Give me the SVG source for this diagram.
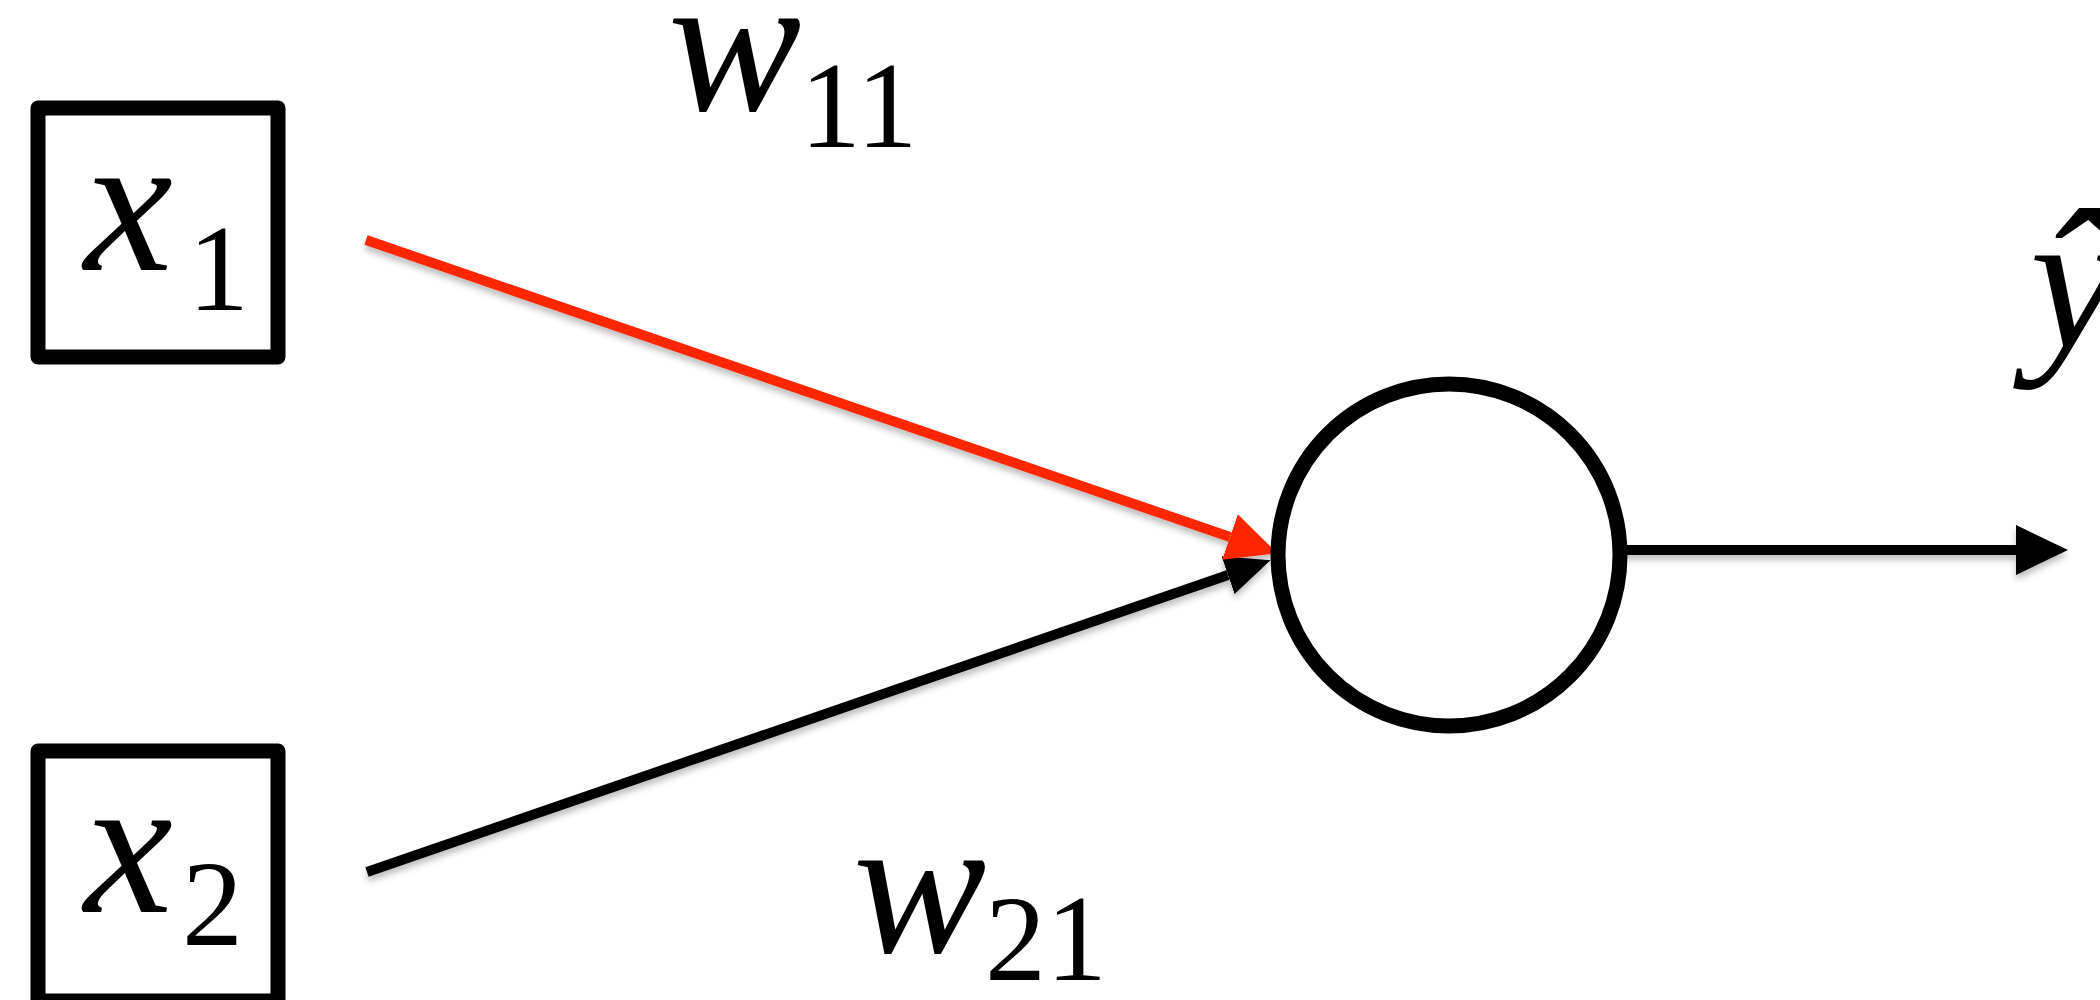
<svg xmlns="http://www.w3.org/2000/svg" width="2100" height="1000" viewBox="0 0 2100 1000">
<style>
.box{fill:#fff;stroke:#000;stroke-width:15;stroke-linejoin:round}
.neuron{fill:#fff;stroke:#000;stroke-width:15}
.var{font-family:"Liberation Serif","Times New Roman",serif;font-style:italic;font-size:200px;fill:#000}
.sub{font-family:"Liberation Serif","Times New Roman",serif;font-style:normal;font-size:122px;fill:#000}
.edge{fill:none;stroke-width:10}
</style>
<defs>
<marker id="ahRed" markerUnits="userSpaceOnUse" markerWidth="60" markerHeight="60" refX="0" refY="24" orient="auto">
<path d="M0,0 L50,24 L0,48 z" fill="#ff2600"/>
</marker>
<marker id="ahIn" markerUnits="userSpaceOnUse" markerWidth="60" markerHeight="60" refX="0" refY="20" orient="auto">
<path d="M0,0 L45,20 L0,40 z" fill="#000"/>
</marker>
<marker id="ahOut" markerUnits="userSpaceOnUse" markerWidth="60" markerHeight="60" refX="0" refY="25" orient="auto">
<path d="M0,0 L52,25 L0,50 z" fill="#000"/>
</marker>
<filter id="shadow" x="-10%" y="-20%" width="120%" height="160%">
<feDropShadow dx="0" dy="5" stdDeviation="3" flood-color="#000" flood-opacity="0.25"/>
</filter>
</defs>

<g id="connectors" filter="url(#shadow)">
<line id="e-x2" class="edge" x1="367" y1="872" x2="1228" y2="575" stroke="#000" marker-end="url(#ahIn)"/>
<line id="e-x1" class="edge" x1="366" y1="240" x2="1230" y2="537" stroke="#ff2600" marker-end="url(#ahRed)"/>
<line id="e-out" class="edge" x1="1625" y1="550" x2="2016" y2="550" stroke="#000" stroke-width="12" marker-end="url(#ahOut)"/>
</g>

<g id="node-x1">
<rect class="box" x="38" y="108" width="240" height="249"/>
<text class="var" x="84" y="270">x</text>
<text class="sub" x="188" y="310">1</text>
</g>

<g id="node-x2">
<rect class="box" x="38" y="751" width="240" height="250"/>
<text class="var" x="84" y="912">x</text>
<text class="sub" x="182" y="945">2</text>
</g>

<g id="node-neuron">
<circle class="neuron" cx="1449" cy="555" r="171"/>
</g>

<g id="label-w11">
<text class="var" x="668" y="110">w</text>
<text class="sub" x="800" y="147">11</text>
</g>

<g id="label-w21">
<text class="var" x="853" y="952">w</text>
<text class="sub" x="985" y="980">21</text>
</g>

<g id="label-yhat">
<text class="var" x="2030" y="347">ŷ</text>
</g>
</svg>
